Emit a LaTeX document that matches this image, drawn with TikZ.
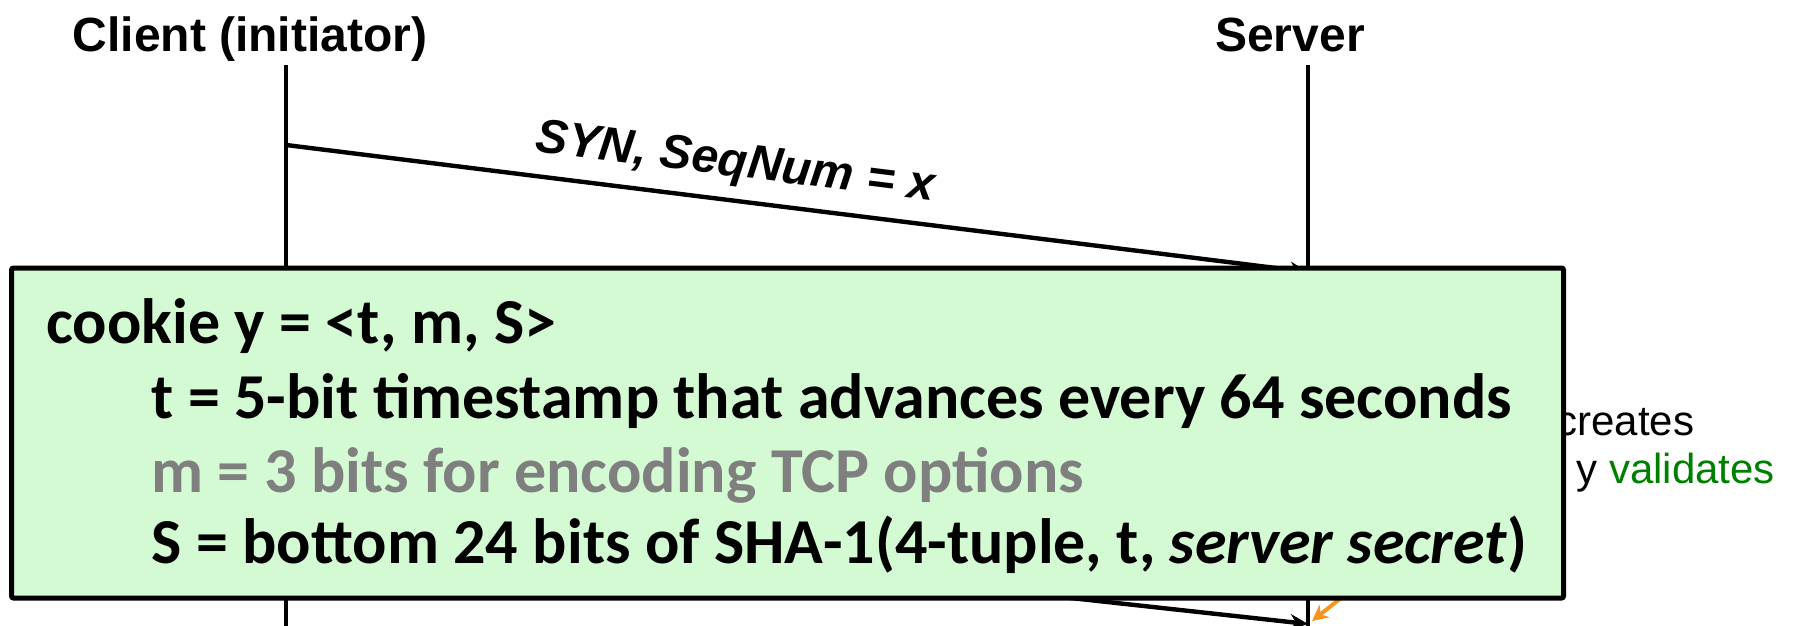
\documentclass[tikz,border=0pt]{standalone}
\usepackage{fontspec}
\setmainfont{Liberation Sans}
\newfontfamily\calibri{Carlito}
\usetikzlibrary{arrows.meta}
\definecolor{boxgreen}{RGB}{212,250,212}
\definecolor{okgreen}{RGB}{0,128,0}
\definecolor{hintorange}{RGB}{247,148,30}
\definecolor{dimgray}{RGB}{127,127,127}

\begin{document}
\begin{tikzpicture}[x=0.5pt,y=-0.5pt,
  lifeline/.style={line width=2pt},
  msg/.style={line width=2.2pt,-{Stealth[length=9pt,width=8pt]}},
  hint/.style={line width=2pt,draw=hintorange,-{Stealth[length=8pt,width=8pt]}},
  party/.style={font=\fontsize{24}{28}\selectfont\bfseries, anchor=base, inner sep=0pt},
  msglabel/.style={font=\fontsize{24}{28}\selectfont\bfseries\itshape, inner sep=0pt},
  cookieline/.style={font=\calibri\fontsize{32}{36}\selectfont\bfseries, anchor=base west, inner sep=0pt},
  note/.style={font=\fontsize{21}{25}\selectfont, anchor=base west, inner sep=0pt},
  cookiebox/.style={draw, line width=2.5pt, fill=boxgreen, rounded corners=1pt, inner sep=0pt,
    minimum width=776pt, minimum height=165pt}]
\useasboundingbox (0,0) rectangle (1794,626);

% parties and their lifelines
\node[party] (client) at (250,52) {Client (initiator)};
\node[party] (server) at (1290,52) {Server};
\coordinate (ctop) at (286,65);
\coordinate (cbot) at (286,626);
\coordinate (stop) at (1308,65);
\coordinate (sbot) at (1308,626);
\draw[lifeline] (ctop) -- (cbot);
\draw[lifeline] (stop) -- (sbot);

% SYN from the client
\coordinate (synA) at (286,145);
\coordinate (synB) at (1308,272);
\draw[msg] (synA) -- node[msglabel, pos=0.435, sloped, above=6pt] (synlabel) {SYN, SeqNum = x} (synB);

% server notes on the right
\node[note] (creates) at (1556,435) {creates};
\node[note] (validates) at (1576,483) {y \textcolor{okgreen}{validates}};

% ACK carrying the cookie back to the server
\coordinate (ackA) at (286,512);
\coordinate (ackB) at (1308,624);
\draw[msg] (ackA) -- (ackB);
\coordinate (hintA) at (1380,567);
\coordinate (hintB) at (1312,621);
\draw[hint] (hintA) -- (hintB);

% cookie layout
\node[cookiebox] (cookie) at (787.5,433) {};
\node[cookieline] (l1) at (46,343) {cookie y = <t, m, S>};
\node[cookieline] (l2) at (151,418) {t = 5-bit timestamp that advances every 64 seconds};
\node[cookieline, text=dimgray] (l3) at (151,492) {m = 3 bits for encoding TCP options};
\node[cookieline] (l4) at (151,563) {S = bottom 24 bits of SHA-1(4-tuple, t, \textit{server secret})};
\end{tikzpicture}
\end{document}
